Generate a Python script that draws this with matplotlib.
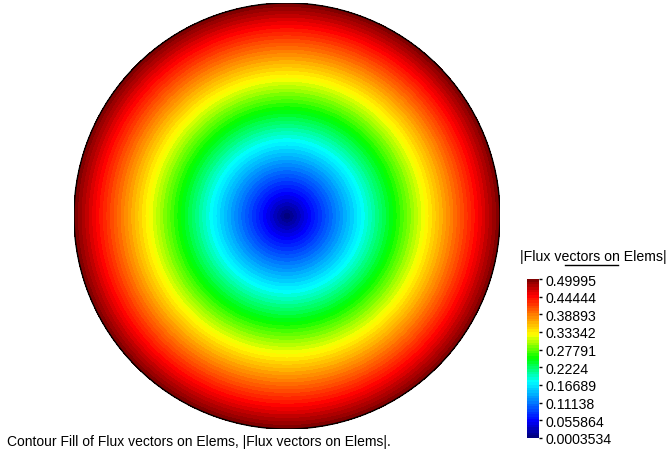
import numpy as np
import matplotlib
matplotlib.use("Agg")
import matplotlib.pyplot as plt
from matplotlib.colors import BoundaryNorm, LinearSegmentedColormap
from matplotlib.patches import Circle
from matplotlib.lines import Line2D
import matplotlib.colorbar as mcolorbar

plt.rcParams['font.family'] = ['Liberation Sans', 'DejaVu Sans']

# data
value_min = 0.0003534
value_max = 0.49995
tick_values = [0.0003534, 0.055864, 0.11138, 0.16689, 0.2224,
               0.27791, 0.33342, 0.38893, 0.44444, 0.49995]
tick_labels = ["0.0003534", "0.055864", "0.11138", "0.16689", "0.2224",
               "0.27791", "0.33342", "0.38893", "0.44444", "0.49995"]
n_levels = 60
colorbar_title = "|Flux vectors on Elems|"
caption = "Contour Fill of Flux vectors on Elems, |Flux vectors on Elems|."

cmap = LinearSegmentedColormap.from_list("rainbow_fe", [
    (0.00, (0.0, 0.0, 0.5)),
    (0.10, (0.0, 0.0, 1.0)),
    (0.35, (0.0, 1.0, 1.0)),
    (0.50, (0.0, 1.0, 0.0)),
    (0.65, (1.0, 1.0, 0.0)),
    (0.90, (1.0, 0.0, 0.0)),
    (1.00, (0.5, 0.0, 0.0)),
], N=256)

W, H = 670, 460
fig = plt.figure(figsize=(W / 100, H / 100), dpi=100)

# disc axes (pixel box)
x0, y0, x1, y1 = 74, 4, 500, 430
ax = fig.add_axes([x0 / W, 1 - y1 / H, (x1 - x0) / W, (y1 - y0) / H])
ax.set_xlim(-1, 1)
ax.set_ylim(-1, 1)
ax.set_aspect('equal')
ax.axis('off')

r = np.linspace(0, 1, 300)
th = np.linspace(0, 2 * np.pi, 721)
R, T = np.meshgrid(r, th)
X = R * np.cos(T)
Y = R * np.sin(T)
Z = value_min + (value_max - value_min) * R

levels = np.linspace(value_min, value_max, n_levels + 1)
norm = BoundaryNorm(levels, cmap.N)
ax.contourf(X, Y, Z, levels=levels, cmap=cmap, norm=norm, antialiased=False)
ax.add_patch(Circle((0, 0), 1.0, fill=False, edgecolor='black', lw=1.0))

# colorbar
cx0, cy0, cx1, cy1 = 527, 280, 539, 439
cax = fig.add_axes([cx0 / W, 1 - cy1 / H, (cx1 - cx0) / W, (cy1 - cy0) / H])
cb = mcolorbar.ColorbarBase(cax, cmap=cmap, norm=norm, boundaries=levels,
                            orientation='vertical', spacing='proportional')
cb.outline.set_visible(False)
cb.set_ticks(tick_values)
cb.set_ticklabels(tick_labels)
cax.minorticks_off()
cax.tick_params(axis='y', which='minor', length=0)
cax.tick_params(axis='y', which='major', length=2, width=1, pad=2.5,
                labelsize=10.2, colors='black', direction='out')
cax.set_ylim(value_min, value_max)

fig.text(593 / W, 1 - 257 / H, colorbar_title, ha='center', va='center',
         fontsize=10.2, color='black')
fig.add_artist(Line2D([565 / W, 618 / W], [1 - 266 / H, 1 - 266 / H],
                      transform=fig.transFigure, color='black', lw=1))

fig.text(7 / W, 1 - 442 / H, caption, ha='left', va='center',
         fontsize=10.0, color='black')

fig.savefig("out.png", dpi=100)
